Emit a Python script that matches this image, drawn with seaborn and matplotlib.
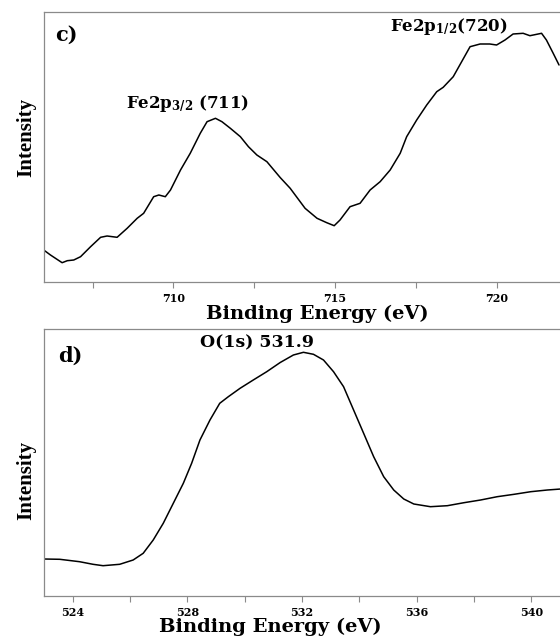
import matplotlib
matplotlib.use("Agg")
import matplotlib.pyplot as plt
import seaborn as sns
import pandas as pd

sns.set_theme(style="ticks")
plt.rcParams['font.family'] = ['DejaVu Serif']
plt.rcParams['font.weight'] = 'bold'
plt.rcParams['mathtext.default'] = 'regular'
plt.rcParams['text.color'] = 'black'
plt.rcParams['axes.labelcolor'] = 'black'

# Fe 2p spectrum (panel c)
fe_energy = [706.02, 706.20, 706.56, 706.72, 706.92, 707.13, 707.44, 707.75, 707.95, 708.26,
             708.57, 708.88, 709.08, 709.39, 709.55, 709.75, 709.91, 710.22, 710.52, 710.83,
             711.04, 711.30, 711.50, 711.76, 712.07, 712.32, 712.58, 712.89, 713.30, 713.61,
             714.07, 714.44, 714.74, 714.97, 715.15, 715.46, 715.77, 716.08, 716.39, 716.70,
             717.01, 717.21, 717.52, 717.83, 718.14, 718.34, 718.65, 718.91, 719.17, 719.48,
             719.78, 719.99, 720.25, 720.50, 720.81, 721.02, 721.38, 721.53, 721.74, 721.92]
fe_intensity = [31.3, 27.0, 19.3, 21.3, 22.0, 25.3, 35.3, 44.7, 46.0, 44.7,
                53.7, 63.7, 68.7, 85.3, 87.0, 85.3, 92.0, 112.0, 128.7, 148.7,
                160.3, 163.7, 160.3, 153.7, 145.3, 135.3, 127.0, 120.3, 104.5, 93.7,
                73.7, 63.7, 59.3, 56.3, 62.0, 75.3, 78.7, 92.0, 100.3, 112.0,
                128.7, 145.3, 162.0, 177.0, 190.3, 194.7, 205.3, 220.3, 235.3, 238.0,
                238.0, 237.0, 242.0, 248.0, 248.7, 246.3, 248.7, 242.0, 228.7, 217.0]

# O 1s spectrum (panel d)
o_energy = [522.99, 523.55, 524.24, 524.71, 525.06, 525.64, 526.11, 526.46, 526.81, 527.16,
            527.51, 527.86, 528.15, 528.44, 528.79, 529.13, 529.43, 529.84, 530.30, 530.77,
            531.24, 531.70, 532.05, 532.40, 532.75, 533.10, 533.45, 533.80, 534.15, 534.50,
            534.85, 535.20, 535.55, 535.90, 536.48, 537.07, 537.65, 538.23, 538.81, 539.40,
            539.98, 540.56, 541.03]
o_intensity = [37.0, 36.7, 34.3, 31.7, 30.3, 31.7, 36.0, 42.7, 56.0, 72.7,
               92.7, 112.7, 132.7, 156.0, 176.0, 192.7, 199.3, 207.7, 216.0, 224.3,
               233.5, 241.0, 243.7, 241.7, 236.0, 224.3, 209.3, 186.0, 162.7, 139.3,
               119.3, 106.0, 97.0, 92.0, 89.3, 90.3, 93.3, 96.0, 99.3, 101.7,
               104.3, 106.0, 107.0]

fe_ticks = [710, 715, 720]
o_ticks = [524, 528, 532, 536, 540]

fig = plt.figure(figsize=(5.6, 6.37), dpi=100)
ax1 = fig.add_axes([44 / 560, 1 - 282 / 637, 516 / 560, 270 / 637])
ax2 = fig.add_axes([44 / 560, 1 - 596 / 637, 516 / 560, 267 / 637])

fe = pd.DataFrame({"energy": fe_energy, "intensity": fe_intensity})
ox = pd.DataFrame({"energy": o_energy, "intensity": o_intensity})

sns.lineplot(data=fe, x="energy", y="intensity", ax=ax1, color="black", linewidth=1.1, estimator=None)
sns.lineplot(data=ox, x="energy", y="intensity", ax=ax2, color="black", linewidth=1.1, estimator=None)

ax1.set_xlim(706.0, 721.95)
ax1.set_ylim(0, 270)
ax2.set_xlim(523.0, 541.0)
ax2.set_ylim(0, 267)

ax1.set_xticks(fe_ticks)
ax1.set_xticks([707.5, 712.5, 717.5], minor=True)
ax2.set_xticks(o_ticks)
ax2.set_xticks([526, 530, 534, 538], minor=True)

for ax in (ax1, ax2):
    ax.set_yticks([])
    for side in ("left", "bottom", "top"):
        ax.spines[side].set_color("#8a8a8a")
        ax.spines[side].set_linewidth(0.9)
    ax.spines["right"].set_visible(False)
    ax.tick_params(axis="x", which="both", direction="out", length=4, width=0.8,
                   color="#8a8a8a", labelcolor="black", labelsize=8, pad=4)
    for lbl in ax.get_xticklabels():
        lbl.set_fontweight("bold")
    ax.set_ylabel("Intensity", family="Liberation Serif", fontweight="bold", fontsize=15)
    ax.set_xlabel("Binding Energy (eV)", fontweight="bold", fontsize=14)

ax1.xaxis.set_label_coords(0.529, -0.084)
ax2.xaxis.set_label_coords(0.438, -0.083)
ax1.yaxis.set_label_coords(-0.015, 0.537)
ax2.yaxis.set_label_coords(-0.015, 0.434)

ax1.text(0.021, 0.915, "c)", transform=ax1.transAxes, fontsize=15, fontweight="bold", ha="left", va="center")
ax1.text(0.159, 0.644, "Fe2p$_{3/2}$ (711)", transform=ax1.transAxes, fontsize=12,
         fontweight="bold", ha="left", va="baseline")
ax1.text(0.671, 0.93, "Fe2p$_{1/2}$(720)", transform=ax1.transAxes, fontsize=12,
         fontweight="bold", ha="left", va="baseline")

ax2.text(0.027, 0.899, "d)", transform=ax2.transAxes, fontsize=15, fontweight="bold", ha="left", va="center")
ax2.text(0.302, 0.933, "O(1s) 531.9", transform=ax2.transAxes, fontsize=12.5,
         fontweight="bold", ha="left", va="baseline")

fig.savefig("out.png", dpi=100)
